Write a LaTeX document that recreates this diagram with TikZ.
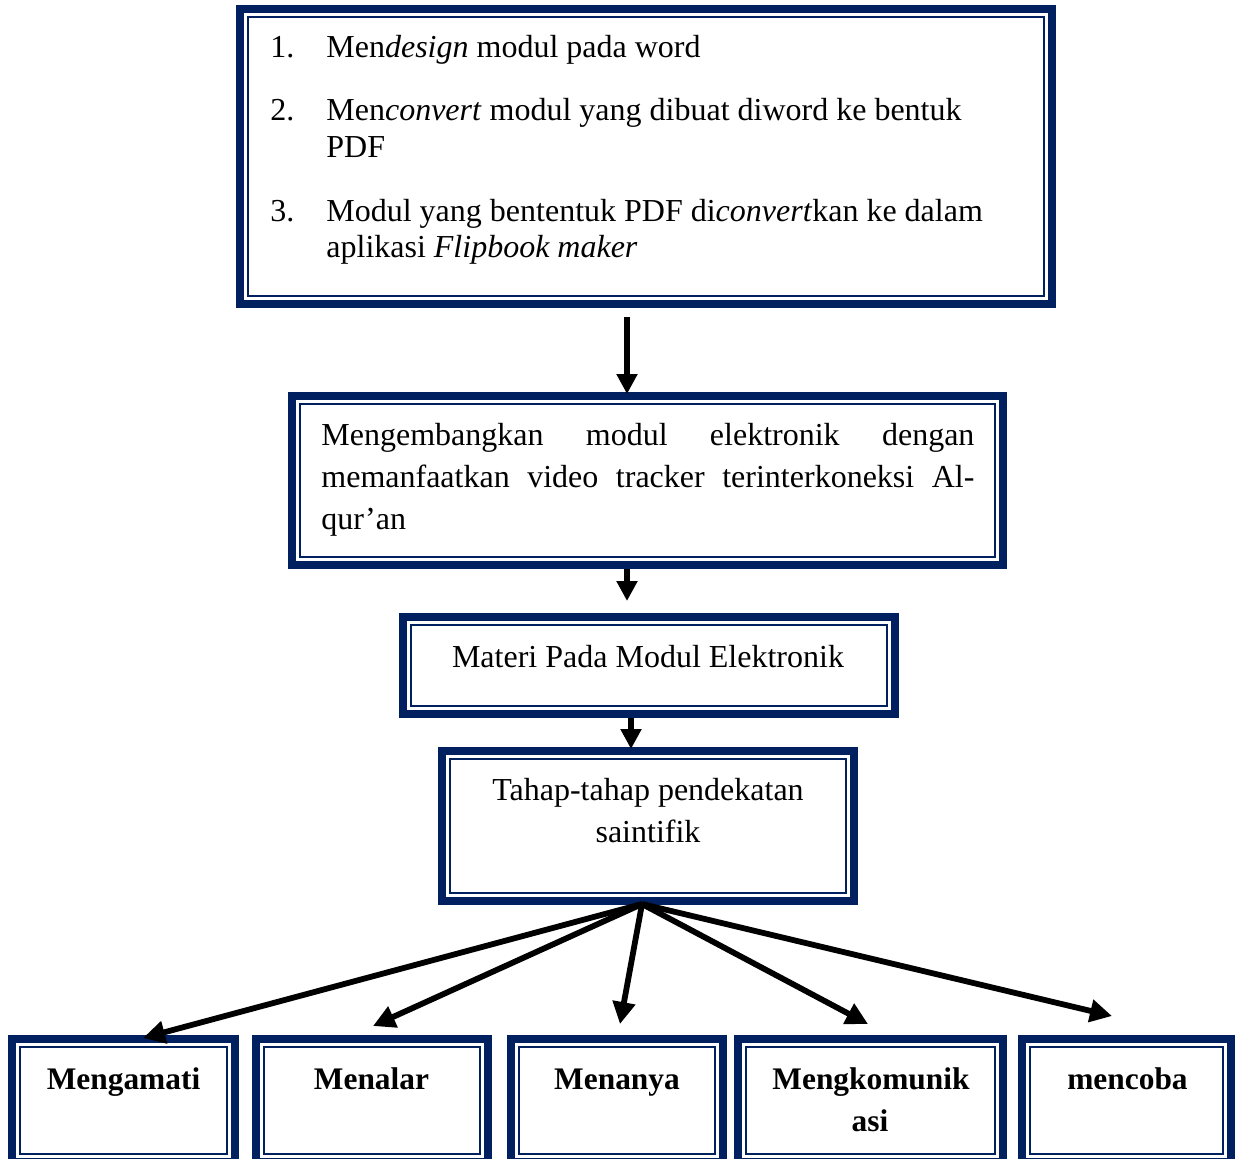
\documentclass[tikz,border=0pt]{standalone}
\usepackage{fontspec}
\setmainfont{Liberation Serif}
\usetikzlibrary{arrows.meta}
\definecolor{navy}{HTML}{002060}
\begin{document}
\begin{tikzpicture}[x=0.5pt,y=-0.5pt,
  wbox/.style={draw=navy,line width=4pt,fill=white,inner sep=0pt,rectangle,
    path picture={\draw[navy,line width=1.25pt]([shift={(4.1pt,-4.1pt)}]path picture bounding box.north west) rectangle ([shift={(-4.1pt,4.1pt)}]path picture bounding box.south east);}},
  txt/.style={font=\fontsize{16pt}{18pt}\selectfont,inner sep=0pt,anchor=base west},
  ctxt/.style={txt,anchor=base},
  btxt/.style={inner sep=0pt,anchor=base,font=\fontsize{15.7pt}{18pt}\selectfont\bfseries},
  arr/.style={line width=3pt,-{Triangle[length=10pt,width=10pt]}},
  farr/.style={line width=2.9pt,-{Triangle[length=11pt,width=11pt]}}]
\useasboundingbox (0,0) rectangle (1235,1158);
\clip (0,0) rectangle (1235,1158);
\fill[white] (0,0) rectangle (1235,1158);

% boxes
\node[wbox,minimum width=406pt,minimum height=147.5pt] (b1) at (646,156.5) {};
\node[wbox,minimum width=355.5pt,minimum height=84.5pt] (b2) at (647.5,480.5) {};
\node[wbox,minimum width=246pt,minimum height=48.5pt] (b3) at (649,665.5) {};
\node[wbox,minimum width=206pt,minimum height=75pt] (b4) at (648,826) {};
\node[wbox,minimum width=111.5pt,minimum height=61.5pt] (m1) at (123.5,1100.5) {};
\node[wbox,minimum width=116pt,minimum height=61.5pt] (m2) at (372,1100.5) {};
\node[wbox,minimum width=106pt,minimum height=61.5pt] (m3) at (617,1100.5) {};
\node[wbox,minimum width=132.5pt,minimum height=61.5pt] (m4) at (870.5,1100.5) {};
\node[wbox,minimum width=104.5pt,minimum height=61.5pt] (m5) at (1126.5,1100.5) {};

% box 1 text
\node[txt] (n1) at (270,57) {1.};
\node[txt] (l1) at (326,57) {Men\textit{design} modul pada word};
\node[txt] (n2) at (270,120) {2.};
\node[txt] (l2) at (326,120) {Men\textit{convert} modul yang dibuat diword ke bentuk};
\node[txt] (l2b) at (326,157) {PDF};
\node[txt] (n3) at (270,221) {3.};
\node[txt] (l3) at (326,221) {Modul yang bententuk PDF di\textit{convert}kan ke dalam};
\node[txt] (l3b) at (326,257) {aplikasi \textit{Flipbook maker}};

% box 2 text
\node[txt] (k1) at (321,445) {\makebox[326.5pt][s]{Mengembangkan modul elektronik dengan}};
\node[txt] (k2) at (321,487) {\makebox[326.5pt][s]{memanfaatkan video tracker terinterkoneksi Al-}};
\node[txt] (k3) at (321,529) {qur’an};

% box 3, 4 text
\node[ctxt] (t3) at (648,667) {Materi Pada Modul Elektronik};
\node[ctxt] (t4a) at (648,800) {Tahap-tahap pendekatan};
\node[ctxt] (t4b) at (648,842) {saintifik};

% bottom texts
\node[btxt] (s1) at (123.5,1089) {Mengamati};
\node[btxt] (s2) at (371.5,1089) {Menalar};
\node[btxt] (s3) at (617,1089) {Menanya};
\node[btxt] (s4a) at (871,1089) {Mengkomunik};
\node[btxt] (s4b) at (870,1131) {asi};
\node[btxt] (s5) at (1127.5,1089) {mencoba};

% vertical arrows
\draw[arr] ([shift={(-19,9)}]b1.south) -- ([shift={(-20.5,2)}]b2.north);
\draw[arr] ([shift={(-20.5,0)}]b2.south) -- ([shift={(-22,-12)}]b3.north);
\draw[arr] ([shift={(-18,0)}]b3.south) -- ([shift={(-17,2)}]b4.north);

% fan arrows
\coordinate (f0) at ([shift={(-6,-1)}]b4.south);
\draw[farr] (f0) -- ([shift={(19.5,3)}]m1.north);
\draw[farr] (f0) -- ([shift={(1,-9)}]m2.north);
\draw[farr] (f0) -- ([shift={(3,-11)}]m3.north);
\draw[farr] (f0) -- ([shift={(-2.5,-11)}]m4.north);
\draw[farr] (f0) -- ([shift={(-14.5,-19)}]m5.north);
\end{tikzpicture}
\end{document}
